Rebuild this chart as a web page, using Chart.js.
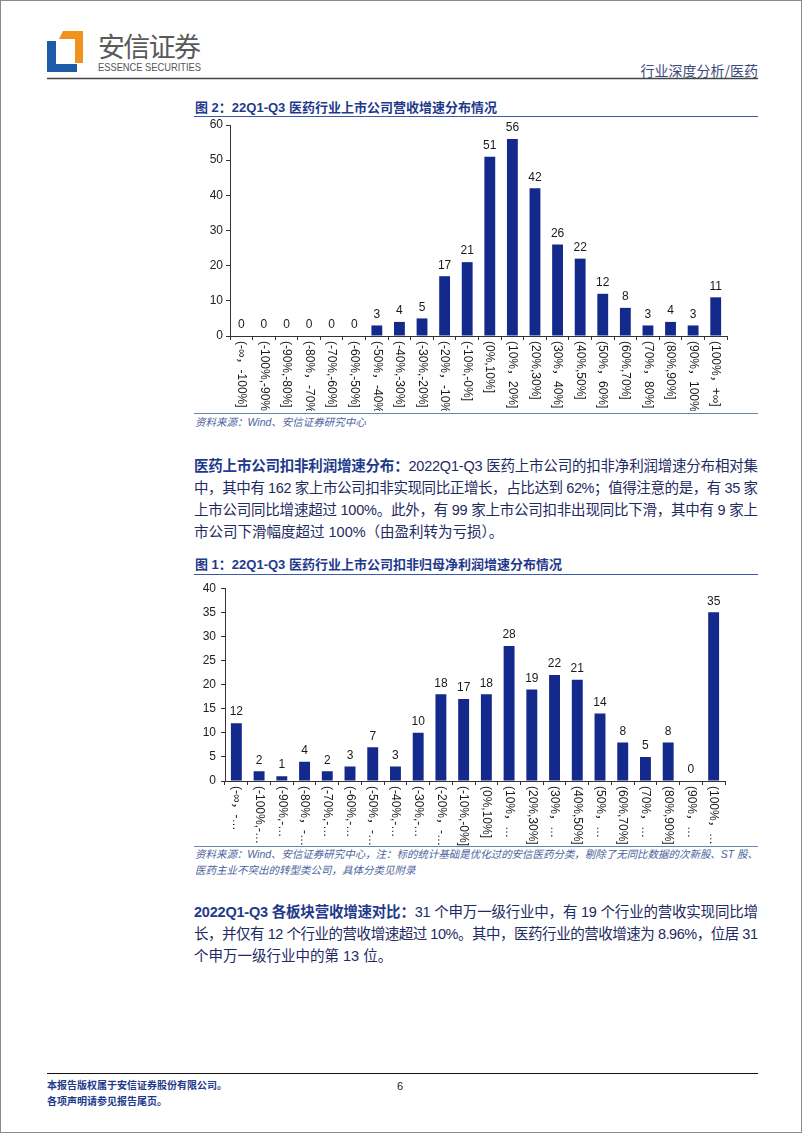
<!DOCTYPE html>
<html>
<head>
<meta charset="utf-8">
<script src="https://cdn.jsdelivr.net/npm/chart.js@4.4.0/dist/chart.umd.min.js"></script>
<style>
  html, body { margin: 0; padding: 0; background: #fff; }
  #page { position: relative; width: 800px; height: 1131px; border: 1px solid #8a8a8a; overflow: hidden;
          font-family: "Liberation Sans", "Noto Sans CJK SC", sans-serif; }
  .abs { position: absolute; }
  .title { left: 194px; font-size: 13px; line-height: 16px; font-weight: bold; color: #1f3a8c; white-space: nowrap; }
  .rule { left: 193px; width: 564px; height: 0; }
  .src { left: 194px; font-size: 10.5px; line-height: 16px; font-style: italic; color: #4b62a0; white-space: nowrap; }
  .para { left: 193px; width: 564px; font-size: 14.5px; line-height: 22px; color: #1e2a62; }
  .para div, .src div { white-space: nowrap; }
  .lead { font-weight: bold; color: #1f3a8c; }
  .foot { left: 46px; font-size: 10px; line-height: 16px; font-weight: bold; color: #1f3a8c; }
  canvas { position: absolute; }
</style>
</head>
<body>
<div id="page">
  <svg class="abs" style="left:0;top:0" width="800" height="90">
    <polygon points="62,30 82,30 82,62 74,62 74,38 58,38" fill="#f0931e"/>
    <polygon points="46,40 55,40 55,63 76,63 76,71 46,71" fill="#1d5ba8"/>
    <text x="97" y="56" font-size="27" fill="#5a5a5a" textLength="103" font-family="Noto Sans CJK SC">安信证券</text>
    <text x="97" y="70" font-size="10.5" fill="#555" textLength="103" lengthAdjust="spacingAndGlyphs" font-family="Liberation Sans Narrow, Liberation Sans">ESSENCE SECURITIES</text>
    <text x="757" y="75" font-size="14" fill="#3b4a7a" text-anchor="end" font-family="Noto Sans CJK SC">行业深度分析/医药</text>
    <line x1="46" y1="77.5" x2="757" y2="77.5" stroke="#444" stroke-width="1.5"/>
  </svg>

  <div class="abs title" style="top:99px">图 2：22Q1-Q3 医药行业上市公司营收增速分布情况</div>
  <div class="abs rule" style="top:115px;border-top:1.5px solid #3d5aa8"></div>
  <canvas id="revenueChart" width="560" height="300" style="left:190px;top:110px"></canvas>
  <div class="abs rule" style="top:412px;border-top:1px solid #6f82b8"></div>
  <div class="abs src" style="top:413px">资料来源：Wind、安信证券研究中心</div>

  <div class="abs para" style="top:454px">
    <div class="jl"><span class="lead">医药上市公司扣非利润增速分布：</span>2022Q1-Q3 医药上市公司的扣非净利润增速分布相对集</div>
    <div class="jl">中，其中有 162 家上市公司扣非实现同比正增长，占比达到 62%；值得注意的是，有 35 家</div>
    <div class="jl">上市公司同比增速超过 100%。此外，有 99 家上市公司扣非出现同比下滑，其中有 9 家上</div>
    <div>市公司下滑幅度超过 100%（由盈利转为亏损）。</div>
  </div>

  <div class="abs title" style="top:556px">图 1：22Q1-Q3 医药行业上市公司扣非归母净利润增速分布情况</div>
  <div class="abs rule" style="top:573px;border-top:1.5px solid #3d5aa8"></div>
  <canvas id="profitChart" width="560" height="270" style="left:190px;top:575px"></canvas>
  <div class="abs rule" style="top:845px;border-top:1px solid #6f82b8"></div>
  <div class="abs src" style="top:845px;width:563px">
    <div class="jl">资料来源：Wind、安信证券研究中心，注：标的统计基础是优化过的安信医药分类，剔除了无同比数据的次新股、ST 股、</div>
    <div>医药主业不突出的转型类公司，具体分类见附录</div>
  </div>

  <div class="abs para" style="top:900px">
    <div class="jl"><span class="lead">2022Q1-Q3 各板块营收增速对比：</span>31 个申万一级行业中，有 19 个行业的营收实现同比增</div>
    <div class="jl">长，并仅有 12 个行业的营收增速超过 10%。其中，医药行业的营收增速为 8.96%，位居 31</div>
    <div>个申万一级行业中的第 13 位。</div>
  </div>

  <div class="abs" style="left:46px;top:1072px;width:711px;border-top:1px solid #111"></div>
  <div class="abs foot" style="top:1077px">本报告版权属于安信证券股份有限公司。</div>
  <div class="abs foot" style="top:1093px">各项声明请参见报告尾页。</div>
  <div class="abs" style="left:396px;top:1079px;font-size:11px;color:#222">6</div>
</div>

<script>
// growth buckets (x axis)
const buckets = ['(-∞，-100%]', '(-100%,-90%]', '(-90%,-80%]', '(-80%，-70%]', '(-70%,-60%]',
  '(-60%,-50%]', '(-50%，-40%]', '(-40%,-30%]', '(-30%,-20%]', '(-20%，-10%]', '(-10%,-0%]',
  '(0%,10%]', '(10%，20%]', '(20%,30%]', '(30%，40%]', '(40%,50%]', '(50%，60%]', '(60%,70%]',
  '(70%，80%]', '(80%,90%]', '(90%，100%]', '(100%，+∞]'];

// number of companies per bucket, revenue growth
const revenueCounts = [0, 0, 0, 0, 0, 0, 3, 4, 5, 17, 21, 51, 56, 42, 26, 22, 12, 8, 3, 4, 3, 11];

// number of companies per bucket, deducted net profit growth
const profitCounts = [12, 2, 1, 4, 2, 3, 7, 3, 10, 18, 17, 18, 28, 19, 22, 21, 14, 8, 5, 8, 0, 35];

// the second chart shows its labels cut short
const profitTickLabels = ['(-∞，-…', '(-100%,-…', '(-90%,-…', '(-80%，-…', '(-70%,-…', '(-60%,-…',
  '(-50%，-…', '(-40%,-…', '(-30%,-…', '(-20%，-…', '(-10%,-0%]', '(0%,10%]', '(10%，…',
  '(20%,30%]', '(30%，…', '(40%,50%]', '(50%，…', '(60%,70%]', '(70%，…', '(80%,90%]',
  '(90%，…', '(100%，…'];

const revenueAxis = [0, 60, 10];  // min, max, step
const profitAxis = [0, 40, 5];

const BAR_COLOR = '#13298c';
const FONT = '"Liberation Sans", "Noto Sans CJK SC", Arial, sans-serif';

// value labels above bars and vertical category labels under the axis
const barLabels = {
  id: 'barLabels',
  afterDatasetsDraw(chart, args, opts) {
    const ctx = chart.ctx;
    const meta = chart.getDatasetMeta(0);
    const values = chart.data.datasets[0].data;
    ctx.save();
    ctx.font = '12px ' + FONT;
    ctx.fillStyle = '#1a1a1a';
    ctx.textAlign = 'center';
    ctx.textBaseline = 'bottom';
    meta.data.forEach((bar, i) => {
      ctx.fillText(String(values[i]), bar.x, bar.y - 5);
    });

    const xs = chart.scales.x;
    ctx.font = '12px ' + FONT;
    ctx.textAlign = 'left';
    ctx.textBaseline = 'middle';
    opts.labels.forEach((lab, i) => {
      ctx.save();
      ctx.translate(xs.getPixelForValue(i), xs.top + 5);
      ctx.rotate(Math.PI / 2);
      ctx.fillText(lab, 0, 0);
      ctx.restore();
    });
    ctx.restore();
  }
};

function makeChart(id, values, tickLabels, axis, yWidth, yPad, xHeight, padding) {
  return new Chart(document.getElementById(id), {
    type: 'bar',
    data: {
      labels: buckets,
      datasets: [{
        data: values,
        backgroundColor: BAR_COLOR,
        barPercentage: 0.48,
        categoryPercentage: 1
      }]
    },
    options: {
      responsive: false,
      animation: false,
      devicePixelRatio: 1,
      layout: { padding: padding },
      plugins: {
        legend: { display: false },
        tooltip: { enabled: false },
        barLabels: { labels: tickLabels }
      },
      scales: {
        x: {
          ticks: { display: false },
          grid: { drawOnChartArea: false, tickLength: 4, color: '#333' },
          border: { color: '#333' },
          afterFit: (s) => { s.height = xHeight; }
        },
        y: {
          min: axis[0],
          max: axis[1],
          ticks: { stepSize: axis[2], color: '#222', padding: yPad, font: { size: 12, family: FONT } },
          grid: { drawOnChartArea: false, tickLength: 4, color: '#333' },
          border: { color: '#333' },
          afterFit: (s) => { s.width = yWidth; }
        }
      }
    },
    plugins: [barLabels]
  });
}

makeChart('revenueChart', revenueCounts, buckets, revenueAxis, 39, 3, 75,
  { top: 14, right: 24, left: 0, bottom: 0 });
makeChart('profitChart', profitCounts, profitTickLabels, profitAxis, 34, 5, 65,
  { top: 9, right: 26, left: 0, bottom: 0 });

// stretch full lines to the text block width, like the justified report text
document.querySelectorAll('.jl').forEach((el) => {
  const target = el.parentElement.getBoundingClientRect().width;
  const span = document.createElement('span');
  while (el.firstChild) span.appendChild(el.firstChild);
  el.appendChild(span);
  const w = span.getBoundingClientRect().width;
  const n = span.textContent.length;
  if (n > 1) span.style.letterSpacing = ((target - w) / (n - 1)) + 'px';
});
</script>
</body>
</html>
